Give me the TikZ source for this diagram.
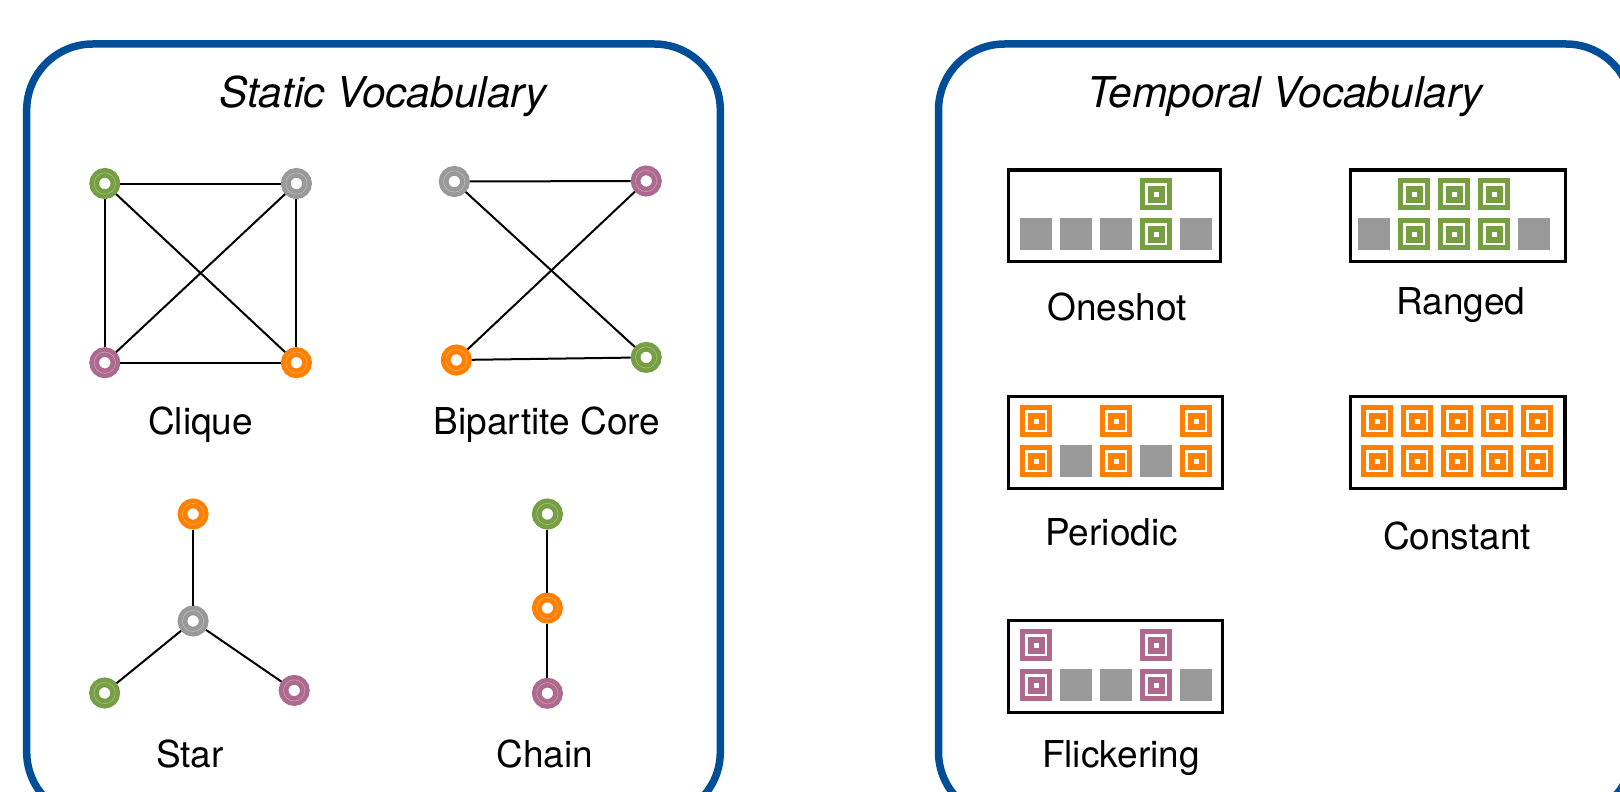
\documentclass[tikz,border=0pt]{standalone}
\usepackage{fontspec}
\setmainfont{TeX Gyre Heros}

\definecolor{panelblue}{RGB}{0,78,152}
\definecolor{vgreen}{RGB}{118,158,66}
\definecolor{vgray}{RGB}{153,153,153}
\definecolor{vpink}{RGB}{173,106,142}
\definecolor{vorange}{RGB}{255,128,0}

\tikzset{
  panel/.style={draw=panelblue, line width=7.5, rounded corners=66},
  title/.style={anchor=base, font=\fontsize{42.4}{50}\selectfont\itshape},
  caption/.style={anchor=base, font=\fontsize{37}{44}\selectfont},
  vtx/.style={circle, inner sep=0, minimum size=21.3, line width=9.7,
    draw=#1, fill=white,
    postaction={draw=white, draw opacity=0.35, line width=0.6}},
  edge/.style={draw=black, line width=2},
  timeline/.style={draw=black, line width=3.3},
  pics/oncell/.style={code={
    \fill[#1] (-16,-16) rectangle (16,16);
    \draw[white, line width=2.5] (-9.75,-9.75) rectangle (9.75,9.75);
    \fill[white] (-2.5,-2.5) rectangle (2.5,2.5);
  }},
  pics/offcell/.style={code={
    \fill[vgray] (-16,-16) rectangle (16,16);
  }},
}

\begin{document}
\begin{tikzpicture}[x=1pt, y=-1pt]
\useasboundingbox (0,0) rectangle (1620,792);
\begin{scope}
\clip (0,0) rectangle (1620,792);

% ---------- panels ----------
\draw[panel] (26.7,44) rectangle (720.3,818);
\draw[panel] (938.5,44) rectangle (1632,818);
\node[title] (stitle) at (383,107) {Static Vocabulary};
\node[title] (ttitle) at (1285,107) {Temporal Vocabulary};

% ---------- clique ----------
\node[vtx=vgreen]  (cqa) at (104.8,183.5) {};
\node[vtx=vgray]   (cqb) at (296.4,183.5) {};
\node[vtx=vpink]   (cqc) at (104.8,362.7) {};
\node[vtx=vorange] (cqd) at (296.4,362.7) {};
\draw[edge] (cqa) -- (cqb);
\draw[edge] (cqa) -- (cqc);
\draw[edge] (cqa) -- (cqd);
\draw[edge] (cqb) -- (cqc);
\draw[edge] (cqb) -- (cqd);
\draw[edge] (cqc) -- (cqd);
\node[caption] (lclique) at (200.6,434) {Clique};

% ---------- bipartite core ----------
\node[vtx=vgray]   (bpa) at (454.3,181.5) {};
\node[vtx=vpink]   (bpb) at (646.2,181) {};
\node[vtx=vorange] (bpc) at (456.3,360) {};
\node[vtx=vgreen]  (bpd) at (646.2,357.4) {};
\draw[edge] (bpa) -- (bpb);
\draw[edge] (bpa) -- (bpd);
\draw[edge] (bpb) -- (bpc);
\draw[edge] (bpc) -- (bpd);
\node[caption] (lbip) at (547,434) {Bipartite Core};

% ---------- star ----------
\node[vtx=vorange] (sta) at (193.1,514) {};
\node[vtx=vgray]   (stc) at (193.1,621) {};
\node[vtx=vgreen]  (stb) at (104.6,693) {};
\node[vtx=vpink]   (std) at (294.2,690.4) {};
\draw[edge] (stc) -- (sta);
\draw[edge] (stc) -- (stb);
\draw[edge] (stc) -- (std);
\node[caption] (lstar) at (190,767) {Star};

% ---------- chain ----------
\node[vtx=vgreen]  (cha) at (547.4,514) {};
\node[vtx=vorange] (chb) at (547.4,608) {};
\node[vtx=vpink]   (chc) at (547.4,693.3) {};
\draw[edge] (cha) -- (chb);
\draw[edge] (chb) -- (chc);
\node[caption] (lchain) at (545,767) {Chain};

% ---------- oneshot ----------
\draw[timeline] (1008.3,170) rectangle (1220.5,261.5);
\foreach \c in {0,1,2,4} \pic at ({1036+40*\c},234.3) {offcell};
\pic at (1156,234.3) {oncell=vgreen};
\pic at (1156,194.3) {oncell=vgreen};
\node[caption] (loneshot) at (1117,320) {Oneshot};

% ---------- ranged ----------
\draw[timeline] (1350.3,170) rectangle (1565.7,261.5);
\foreach \c in {0,4} \pic at ({1374.3+40*\c},234.3) {offcell};
\foreach \c in {1,2,3} {
  \pic at ({1374.3+40*\c},234.3) {oncell=vgreen};
  \pic at ({1374.3+40*\c},194.3) {oncell=vgreen};
}
\node[caption] (lranged) at (1461,314) {Ranged};

% ---------- periodic ----------
\draw[timeline] (1008.7,396.7) rectangle (1222.8,488.3);
\foreach \c in {1,3} \pic at ({1036+40*\c},461) {offcell};
\foreach \c in {0,2,4} {
  \pic at ({1036+40*\c},461) {oncell=vorange};
  \pic at ({1036+40*\c},421) {oncell=vorange};
}
\node[caption] (lperiodic) at (1111.6,545.5) {Periodic};

% ---------- constant ----------
\draw[timeline] (1350.3,396.7) rectangle (1565,488.3);
\foreach \c in {0,...,4} {
  \pic at ({1377+40*\c},461) {oncell=vorange};
  \pic at ({1377+40*\c},421) {oncell=vorange};
}
\node[caption] (lconstant) at (1457,549) {Constant};

% ---------- flickering ----------
\draw[timeline] (1008.7,620.7) rectangle (1222.8,712.3);
\foreach \c in {1,2,4} \pic at ({1036+40*\c},685) {offcell};
\foreach \c in {0,3} {
  \pic at ({1036+40*\c},685) {oncell=vpink};
  \pic at ({1036+40*\c},645) {oncell=vpink};
}
\node[caption] (lflicker) at (1121,767.5) {Flickering};

\end{scope}
\end{tikzpicture}
\end{document}
